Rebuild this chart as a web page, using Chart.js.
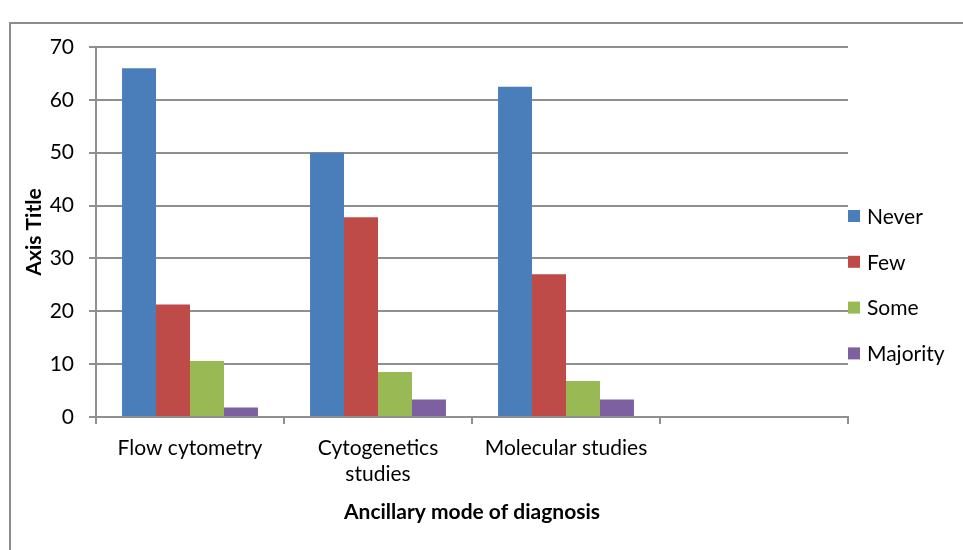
<!DOCTYPE html>
<html>
<head>
<meta charset="utf-8">
<script src="https://cdn.jsdelivr.net/npm/chart.js@4/dist/chart.umd.min.js"></script>
<style>
  html, body { margin: 0; padding: 0; background: #ffffff; }
  #wrap { width: 963px; height: 550px; }
</style>
</head>
<body>
<div id="wrap"><canvas id="chart" width="963" height="550"></canvas></div>
<script>
// Categories on the x axis (the fourth slot is empty)
const categories = ['Flow cytometry', ['Cytogenetics', 'studies'], 'Molecular studies', ''];

// Share of respondents per answer
const never    = [66.0, 50.0, 62.5, null];
const few      = [21.3, 37.8, 27.0, null];
const some     = [10.6, 8.5, 6.8, null];
const majority = [1.8, 3.3, 3.3, null];

const seriesNames = ['Never', 'Few', 'Some', 'Majority'];
const yTicks = [0, 10, 20, 30, 40, 50, 60, 70];

const FONT = 'Lato, "Liberation Sans", sans-serif';
const GRID = '#8f8f8f';

// Outer frame of the chart
const framePlugin = {
  id: 'frame',
  beforeDraw(chart) {
    const ctx = chart.ctx;
    ctx.save();
    ctx.strokeStyle = '#8c8c8c';
    ctx.lineWidth = 2;
    ctx.strokeRect(10, 23, 1200, 800);
    ctx.restore();
  }
};

// Legend on the right, one swatch per series
const sideLegend = {
  id: 'sideLegend',
  afterDraw(chart) {
    const ctx = chart.ctx;
    const area = chart.chartArea;
    const x = area.right;
    const firstY = 216;
    const step = 45.8;
    ctx.save();
    ctx.font = '21px ' + FONT;
    ctx.textBaseline = 'middle';
    ctx.textAlign = 'left';
    chart.data.datasets.forEach((ds, i) => {
      const cy = firstY + i * step;
      ctx.fillStyle = ds.backgroundColor;
      ctx.fillRect(x, cy - 6, 12, 12);
      ctx.fillStyle = '#000000';
      ctx.fillText(ds.label, x + 19, cy + 1);
    });
    ctx.restore();
  }
};

const colors = ['#4A7EBB', '#BE4B48', '#98B954', '#7D60A0'];
const values = [never, few, some, majority];

new Chart(document.getElementById('chart'), {
  type: 'bar',
  data: {
    labels: categories,
    datasets: values.map((v, i) => ({
      label: seriesNames[i],
      data: v,
      backgroundColor: colors[i],
      borderWidth: 0,
      categoryPercentage: 0.723,
      barPercentage: 1.0
    }))
  },
  options: {
    responsive: false,
    animation: false,
    devicePixelRatio: 1,
    layout: { padding: { left: 15, right: 115, top: 47, bottom: 20 } },
    plugins: {
      legend: { display: false },
      tooltip: { enabled: false }
    },
    scales: {
      x: {
        grid: {
          display: true,
          offset: true,
          drawOnChartArea: false,
          drawTicks: true,
          tickLength: 7,
          color: GRID,
          lineWidth: 2
        },
        border: { display: true, color: GRID, width: 2 },
        ticks: {
          color: '#000000',
          font: { family: FONT, size: 21 },
          padding: 12,
          maxRotation: 0,
          autoSkip: false
        },
        title: {
          display: true,
          text: 'Ancillary mode of diagnosis',
          color: '#000000',
          font: { family: FONT, size: 21, weight: 'bold' },
          padding: { top: 0, bottom: 5 }
        },
        afterFit(scale) { scale.height = 113; }
      },
      y: {
        min: 0,
        max: 70,
        afterBuildTicks(scale) { scale.ticks = yTicks.map(v => ({ value: v })); },
        grid: {
          color: GRID,
          lineWidth: 2,
          drawTicks: true,
          tickLength: 7
        },
        border: { display: true, color: GRID, width: 2 },
        ticks: {
          color: '#000000',
          font: { family: FONT, size: 21 },
          padding: 15
        },
        title: {
          display: true,
          text: 'Axis Title',
          color: '#000000',
          font: { family: FONT, size: 21, weight: 'bold' },
          padding: { top: 7, bottom: 0 }
        },
        afterFit(scale) { scale.width = 81; }
      }
    }
  },
  plugins: [framePlugin, sideLegend]
});
</script>
</body>
</html>
